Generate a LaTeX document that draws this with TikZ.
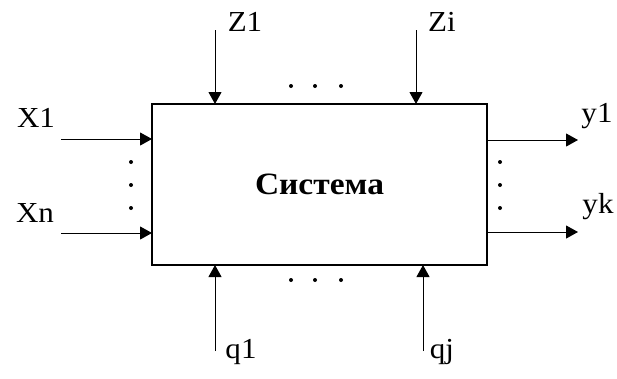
\documentclass[tikz,border=0pt]{standalone}
\usepackage{fontspec}
\setmainfont{Liberation Serif}
\usetikzlibrary{arrows.meta}
\newcommand{\lbl}[1]{\scalebox{1.07}[1]{#1}}
\begin{document}
\begin{tikzpicture}[x=1pt,y=-1pt,
  sys/.style={draw,line width=2.2pt,minimum width=335pt,minimum height=161pt,inner sep=0pt,font=\fontsize{31}{34}\selectfont\bfseries},
  sig/.style={line width=1pt,-{Triangle[length=12pt,width=13pt]}},
  txt/.style={inner sep=0pt,font=\fontsize{29}{32}\selectfont},
  dotm/.style={circle,fill,inner sep=0pt,minimum size=4pt}]
\useasboundingbox (0,0) rectangle (617,378);
\node[sys] (S) at (319.5,184.5) {\scalebox{1.08}[1]{Система}};
% top inputs
\coordinate (z1s) at (215,30); \coordinate (z1e) at (215,104);
\coordinate (zis) at (416,30); \coordinate (zie) at (416,104);
\draw[sig] (z1s) -- (z1e);
\draw[sig] (zis) -- (zie);
\node[txt] (Z1) at (245,22) {\lbl{Z1}};
\node[txt] (Zi) at (442,22) {\lbl{Zi}};
% left inputs
\coordinate (x1s) at (61,139); \coordinate (x1e) at (152,139);
\coordinate (xns) at (61,233); \coordinate (xne) at (152,233);
\draw[sig] (x1s) -- (x1e);
\draw[sig] (xns) -- (xne);
\node[txt] (X1) at (36,118) {\lbl{X1}};
\node[txt] (Xn) at (35,213) {\lbl{Xn}};
% right outputs
\coordinate (y1s) at (487,140); \coordinate (y1e) at (578,140);
\coordinate (yks) at (487,232); \coordinate (yke) at (578,232);
\draw[sig] (y1s) -- (y1e);
\draw[sig] (yks) -- (yke);
\node[txt] (y1) at (597,116) {\lbl{y1}};
\node[txt] (yk) at (598,207) {\lbl{yk}};
% bottom inputs
\coordinate (q1s) at (215,351); \coordinate (q1e) at (215,265);
\coordinate (qjs) at (423,351); \coordinate (qje) at (423,265);
\draw[sig] (q1s) -- (q1e);
\draw[sig] (qjs) -- (qje);
\node[txt] (q1) at (241,352) {\lbl{q1}};
\node[txt] (qj) at (442,352) {\lbl{qj}};
% dots
\foreach \x in {291,315,341} {
  \node[dotm] at (\x,86) {};
  \node[dotm] at (\x,280) {};
}
\foreach \y in {162,185,208} {
  \node[dotm] at (131,\y) {};
  \node[dotm] at (500,\y) {};
}
\end{tikzpicture}
\end{document}
